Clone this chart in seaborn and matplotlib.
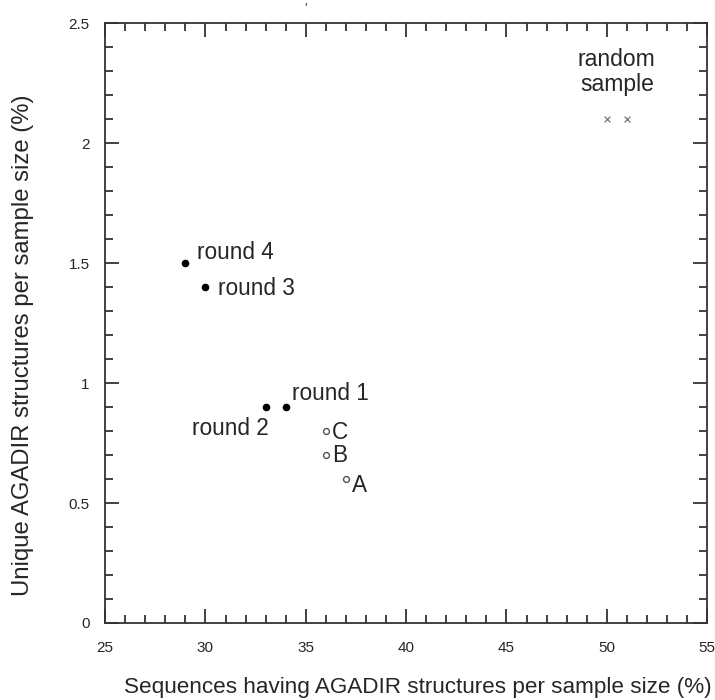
import numpy as np
import pandas as pd
import matplotlib
matplotlib.use("Agg")
import matplotlib.pyplot as plt
from matplotlib.ticker import MultipleLocator
import seaborn as sns

# rounds of selection (filled dots)
round_names = ["round 1", "round 2", "round 3", "round 4"]
round_x = [34, 33, 30, 29]
round_y = [0.9, 0.9, 1.4, 1.5]

# open circles
open_names = ["A", "B", "C"]
open_x = [37, 36, 36]
open_y = [0.6, 0.7, 0.8]

# random sample (crosses)
rand_x = [50, 51]
rand_y = [2.1, 2.1]

sns.set_style("ticks")
plt.rcParams["font.family"] = ["Liberation Sans", "DejaVu Sans"]

fig = plt.figure(figsize=(7.15, 7.0), dpi=100)
ax = fig.add_axes([0.147, 0.11, 0.842, 0.857])

rounds = pd.DataFrame({"x": round_x, "y": round_y, "name": round_names})
opens = pd.DataFrame({"x": open_x, "y": open_y, "name": open_names})
rand = pd.DataFrame({"x": rand_x, "y": rand_y})

sns.scatterplot(data=rounds, x="x", y="y", color="black", s=30, linewidth=0, ax=ax)
sns.scatterplot(data=opens, x="x", y="y", facecolor="white", edgecolor="#555555",
                s=18, linewidth=1.0, ax=ax)
sns.scatterplot(data=rand, x="x", y="y", marker="x", color="#777777", s=18,
                linewidth=0.9, ax=ax)

# labels
fs = 16.3
ax.text(29.6, 1.545, "round 4", fontsize=fs, ha="left", va="center")
ax.text(30.65, 1.395, "round 3", fontsize=fs, ha="left", va="center")
ax.text(34.3, 0.955, "round 1", fontsize=fs, ha="left", va="center")
ax.text(33.15, 0.81, "round 2", fontsize=fs, ha="right", va="center")
ax.text(36.3, 0.795, "C", fontsize=fs, ha="left", va="center")
ax.text(36.3, 0.70, "B", fontsize=fs, ha="left", va="center")
ax.text(37.3, 0.575, "A", fontsize=fs, ha="left", va="center")
ax.text(50.5, 2.296, "random\nsample", fontsize=16.5, ha="center", va="center",
        linespacing=1.1)

ax.set_xlim(25, 55)
ax.set_ylim(0, 2.5)
ax.xaxis.set_major_locator(MultipleLocator(5))
ax.xaxis.set_minor_locator(MultipleLocator(1))
ax.yaxis.set_major_locator(MultipleLocator(0.5))
ax.yaxis.set_minor_locator(MultipleLocator(0.1))
ax.set_xticks([25, 30, 35, 40, 45, 50, 55])
ax.set_xticklabels(["25", "30", "35", "40", "45", "50", "55"])
ax.set_yticks([0, 0.5, 1, 1.5, 2, 2.5])
ax.set_yticklabels(["0", "0.5", "1", "1.5", "2", "2.5"])

ax.tick_params(which="both", direction="in", top=True, right=True,
               width=1.2, color="#222222")
ax.tick_params(which="major", length=10, pad=13, labelsize=11)
ax.tick_params(which="minor", length=5.5)
ax.tick_params(axis="y", which="major", pad=11)

for sp in ax.spines.values():
    sp.set_linewidth(1.3)
    sp.set_color("#333333")

ax.set_xlabel("Sequences having AGADIR structures per sample size (%)",
              fontsize=16.2)
ax.set_ylabel("Unique AGADIR structures per sample size (%)", fontsize=17.2)
ax.xaxis.set_label_coords(0.52, -0.09)
ax.yaxis.set_label_coords(-0.118, 0.463)

fig.text(0.427, 0.997, "'", fontsize=9, ha="center", va="top")

fig.savefig("out.png", dpi=100)
